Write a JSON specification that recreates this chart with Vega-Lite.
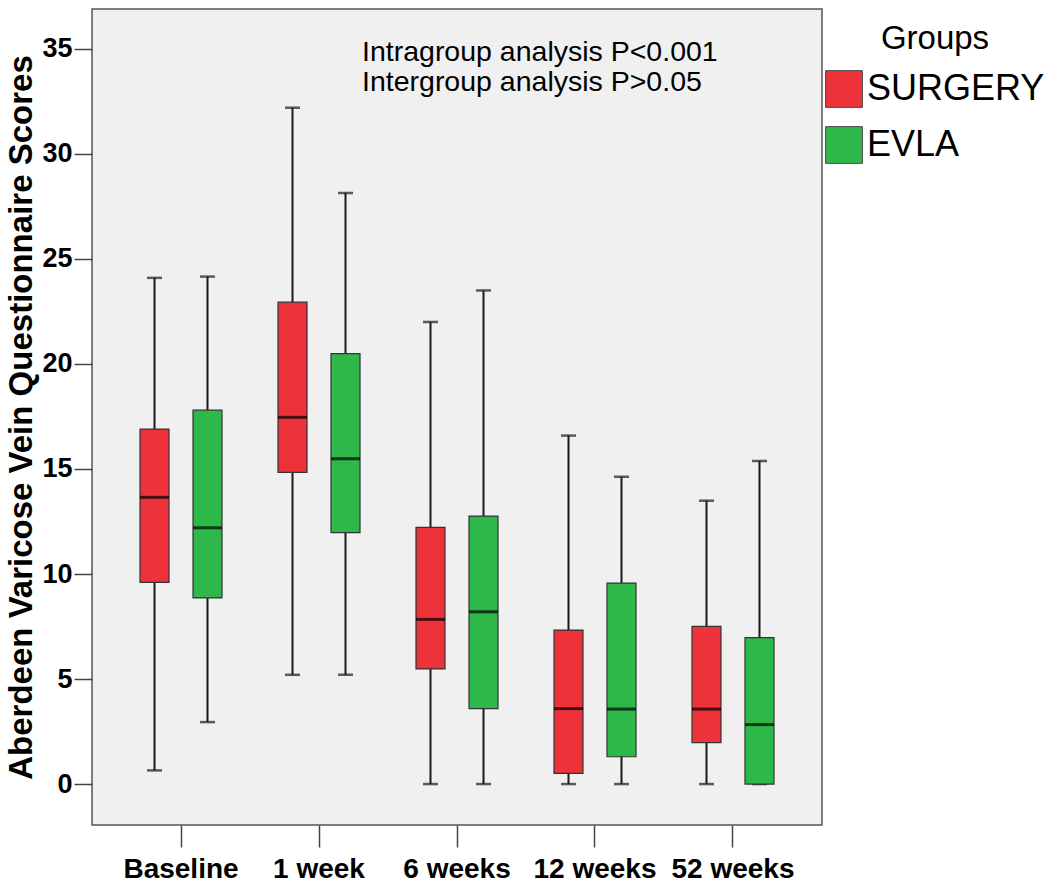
{
  "$schema": "https://vega.github.io/schema/vega-lite/v6.json",
  "width": 730,
  "height": 816,
  "autosize": {"type": "none"},
  "padding": {"left": 92, "top": 9, "right": 233, "bottom": 63},
  "background": "white",
  "config": {
    "font": "Liberation Sans",
    "view": {"fill": "#F0F0F0", "stroke": "#555555", "strokeWidth": 1.5}
  },
  "datasets": {
    "stats": [
      {"time": "Baseline", "group": "SURGERY", "min": 0.65, "q1": 9.6, "median": 13.65, "q3": 16.9, "max": 24.1},
      {"time": "Baseline", "group": "EVLA", "min": 2.95, "q1": 8.86, "median": 12.2, "q3": 17.8, "max": 24.16},
      {"time": "1 week", "group": "SURGERY", "min": 5.2, "q1": 14.84, "median": 17.46, "q3": 22.94, "max": 32.2},
      {"time": "1 week", "group": "EVLA", "min": 5.2, "q1": 11.97, "median": 15.49, "q3": 20.49, "max": 28.14},
      {"time": "6 weeks", "group": "SURGERY", "min": 0, "q1": 5.48, "median": 7.84, "q3": 12.22, "max": 22.0},
      {"time": "6 weeks", "group": "EVLA", "min": 0, "q1": 3.59, "median": 8.2, "q3": 12.76, "max": 23.5},
      {"time": "12 weeks", "group": "SURGERY", "min": 0, "q1": 0.51, "median": 3.59, "q3": 7.33, "max": 16.59},
      {"time": "12 weeks", "group": "EVLA", "min": 0, "q1": 1.3, "median": 3.57, "q3": 9.57, "max": 14.63},
      {"time": "52 weeks", "group": "SURGERY", "min": 0, "q1": 1.97, "median": 3.57, "q3": 7.51, "max": 13.49},
      {"time": "52 weeks", "group": "EVLA", "min": 0, "q1": 0, "median": 2.83, "q3": 6.97, "max": 15.38}
    ],
    "note": [
      {"label": ["Intragroup analysis P<0.001", "Intergroup analysis P>0.05"]}
    ]
  },
  "data": {"name": "stats"},
  "encoding": {
    "x": {
      "field": "time",
      "type": "nominal",
      "sort": ["Baseline", "1 week", "6 weeks", "12 weeks", "52 weeks"],
      "scale": {"paddingInner": 0, "paddingOuter": 0.145},
      "axis": {
        "title": null,
        "labelAngle": 0,
        "labelFontSize": 28,
        "labelFontWeight": "bold",
        "labelColor": "#000000",
        "labelPadding": 8,
        "tickSize": 22,
        "tickWidth": 1.5,
        "tickColor": "#444444",
        "domain": false,
        "grid": false
      }
    },
    "xOffset": {
      "field": "group",
      "type": "nominal",
      "sort": ["SURGERY", "EVLA"],
      "scale": {"paddingInner": 0.4528, "paddingOuter": 0.5283}
    }
  },
  "layer": [
    {
      "mark": {"type": "rule", "color": "#1A1A1A", "strokeWidth": 2},
      "encoding": {
        "y": {
          "field": "min",
          "type": "quantitative",
          "scale": {"domain": [-1.95, 36.9], "nice": false, "zero": false},
          "axis": {
            "title": "Aberdeen Varicose Vein Questionnaire Scores",
            "titleFontSize": 33,
            "titleFontWeight": "bold",
            "titleColor": "#000000",
            "titlePadding": 3,
            "values": [0, 5, 10, 15, 20, 25, 30, 35],
            "labelFontSize": 27,
            "labelFontWeight": "bold",
            "labelColor": "#000000",
            "labelPadding": 2,
            "tickSize": 18,
            "tickWidth": 1.5,
            "tickColor": "#444444",
            "domain": false,
            "grid": false
          }
        },
        "y2": {"field": "max"}
      }
    },
    {
      "mark": {"type": "tick", "color": "#1A1A1A", "size": 15, "thickness": 2.5, "orient": "horizontal"},
      "encoding": {"y": {"field": "max", "type": "quantitative"}}
    },
    {
      "mark": {"type": "tick", "color": "#1A1A1A", "size": 15, "thickness": 2.5, "orient": "horizontal"},
      "encoding": {"y": {"field": "min", "type": "quantitative"}}
    },
    {
      "mark": {"type": "bar", "stroke": "#333333", "strokeWidth": 1.2},
      "encoding": {
        "y": {"field": "q1", "type": "quantitative"},
        "y2": {"field": "q3"},
        "color": {
          "field": "group",
          "type": "nominal",
          "scale": {"domain": ["SURGERY", "EVLA"], "range": ["#EE323A", "#2EB84A"]},
          "legend": {
            "title": "Groups",
            "orient": "none",
            "legendX": 733,
            "legendY": 14,
            "padding": 0,
            "titleFontSize": 33,
            "titleFontWeight": "normal",
            "titleColor": "#000000",
            "titleAnchor": "middle",
            "titlePadding": 14,
            "titleLimit": 0,
            "labelFontSize": 36,
            "labelColor": "#000000",
            "labelOffset": 4,
            "labelLimit": 0,
            "symbolType": "square",
            "symbolSize": 1350,
            "symbolStrokeColor": "#444444",
            "symbolStrokeWidth": 1,
            "symbolOpacity": 1,
            "rowPadding": 14
          }
        }
      }
    },
    {
      "mark": {"type": "tick", "color": "#000000", "size": 29, "thickness": 3, "orient": "horizontal"},
      "encoding": {"y": {"field": "median", "type": "quantitative"}}
    },
    {
      "data": {"name": "note"},
      "mark": {"type": "text", "align": "left", "baseline": "alphabetic", "fontSize": 28.5, "lineHeight": 30, "dx": -95, "color": "#000000"},
      "encoding": {
        "x": {"datum": "6 weeks"},
        "xOffset": null,
        "y": {"datum": 34.42},
        "text": {"field": "label"}
      }
    }
  ]
}
